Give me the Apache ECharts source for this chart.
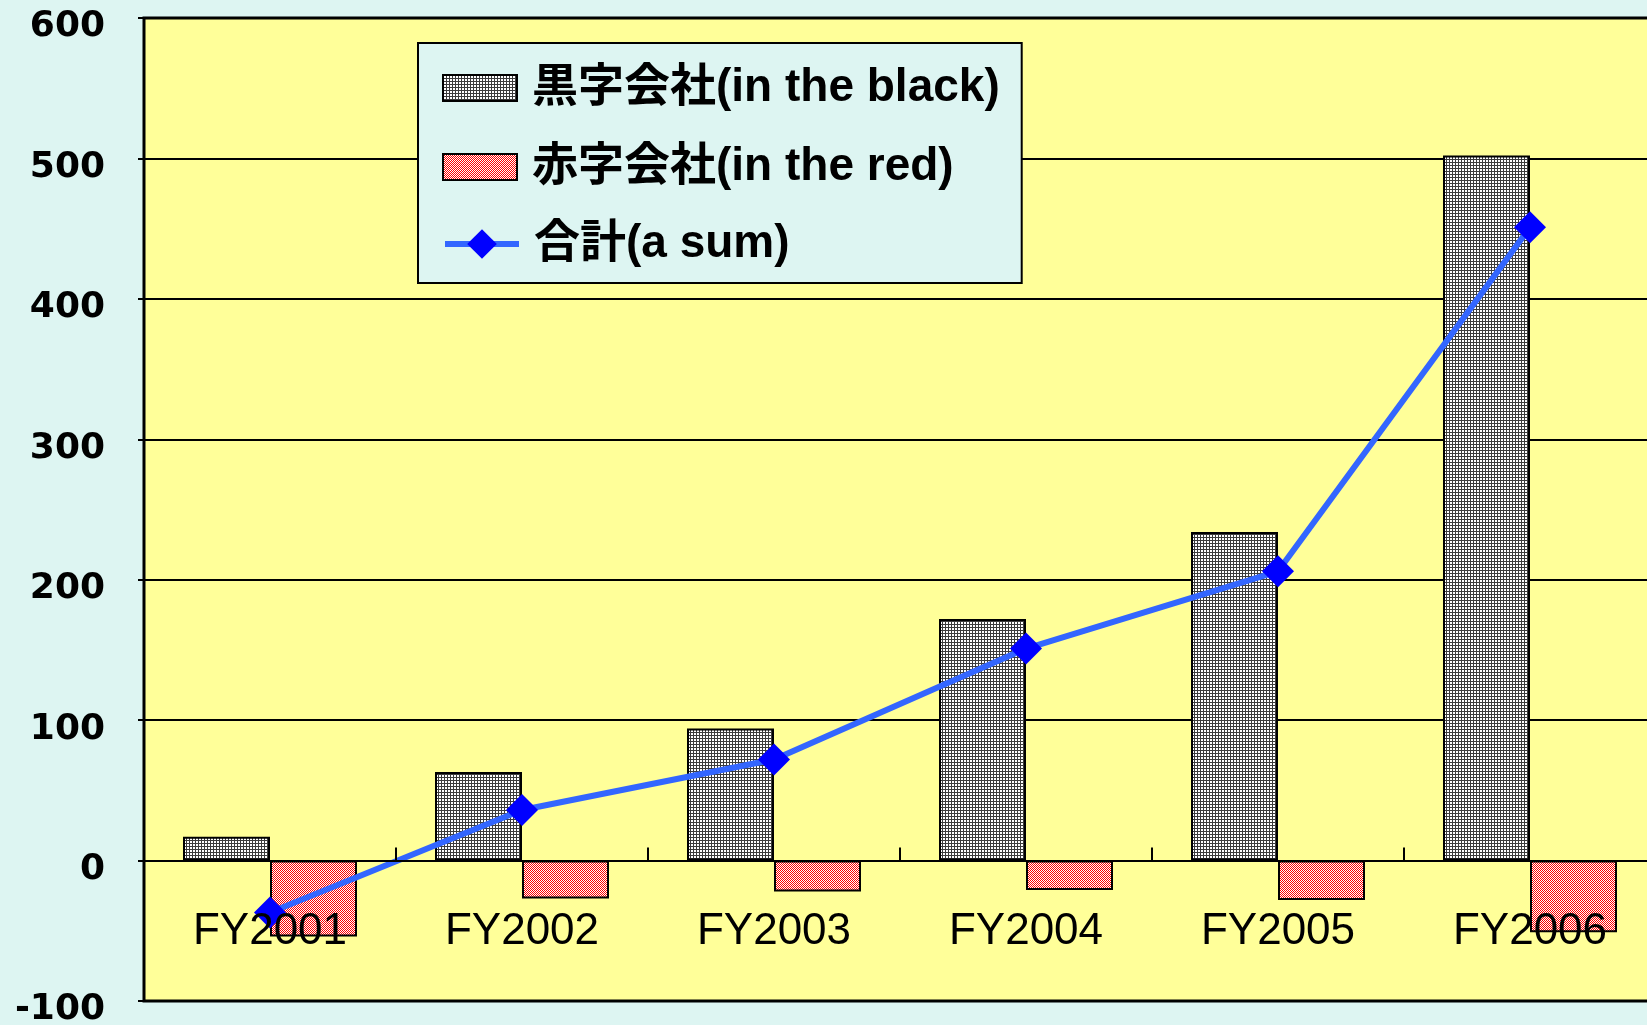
<!DOCTYPE html>
<html><head><meta charset="utf-8">
<script src="https://cdn.jsdelivr.net/npm/echarts@6/dist/echarts.min.js"></script>
<style>html,body{margin:0;padding:0;background:#DDF5F2;}#c{width:1647px;height:1025px;}</style>
</head><body><div id="c"></div>
<script>
const categories = ['FY2001', 'FY2002', 'FY2003', 'FY2004', 'FY2005', 'FY2006'];
const blackValues = [17, 63, 94, 172, 234, 502];
const redValues = [-54, -27, -22, -21, -28, -51];
const sumValues = [-37, 36, 72, 151, 206, 451];
const seriesNames = ['黒字会社(in the black)', '赤字会社(in the red)', '合計(a sum)'];
const yMin = -100, yMax = 600, yStep = 100;

function gridPattern() {
  const c = document.createElement('canvas'); c.width = 3; c.height = 3;
  const g = c.getContext('2d');
  g.fillStyle = '#ffffff'; g.fillRect(0, 0, 3, 3);
  g.fillStyle = '#3c3c3c'; g.fillRect(0, 0, 3, 1); g.fillRect(0, 0, 1, 3);
  return c;
}
function checkPattern() {
  const c = document.createElement('canvas'); c.width = 2; c.height = 2;
  const g = c.getContext('2d');
  g.fillStyle = '#ffffff'; g.fillRect(0, 0, 2, 2);
  g.fillStyle = '#ff0000'; g.fillRect(0, 0, 1, 1); g.fillRect(1, 1, 1, 1);
  return c;
}
const blackFill = { image: gridPattern(), repeat: 'repeat' };
const redFill = { image: checkPattern(), repeat: 'repeat' };

const legendText = { fontSize: 46, fontWeight: 'bold', color: '#000',
  fontFamily: '"Liberation Sans", "Noto Sans CJK JP", sans-serif', padding: [0, 0, 0, 10] };

const chart = echarts.init(document.getElementById('c'), null, { renderer: 'canvas' });
chart.setOption({
  backgroundColor: '#DDF5F2',
  animation: false,
  grid: {
    left: 144, top: 18, right: -9, bottom: 24,
    containLabel: false, outerBoundsMode: 'none',
    show: true, backgroundColor: '#FFFF99', borderColor: '#000', borderWidth: 3
  },
  legend: [{
    orient: 'vertical', left: 418, top: 43,
    backgroundColor: '#DDF5F2', borderColor: '#000', borderWidth: 2,
    padding: [22, 22, 93, 24],
    icon: 'rect',
    itemWidth: 74, itemHeight: 26, itemGap: 33,
    textStyle: legendText,
    data: [seriesNames[0], seriesNames[1]]
  }, {
    orient: 'vertical', left: 442, top: 221,
    padding: 0,
    itemWidth: 74, itemHeight: 37,
    lineStyle: { width: 6 },
    textStyle: legendText,
    data: [seriesNames[2]]
  }],
  xAxis: {
    type: 'category', data: categories, z: 10,
    axisLine: { onZero: true, lineStyle: { color: '#000', width: 2 } },
    axisTick: { show: true, inside: true, length: 13, lineStyle: { color: '#000', width: 2 } },
    axisLabel: { margin: -91, fontSize: 44, color: '#000', fontFamily: '"Liberation Sans", sans-serif' },
    splitLine: { show: false }
  },
  yAxis: {
    type: 'value', min: yMin, max: yMax, interval: yStep,
    axisLine: { show: false },
    axisTick: { show: true, length: 6, lineStyle: { color: '#000', width: 2 } },
    axisLabel: { margin: 39, fontSize: 36, fontWeight: 'bold', color: '#000',
      fontFamily: '"DejaVu Sans", sans-serif', verticalAlign: 'top', lineHeight: 18 },
    splitLine: { show: true, lineStyle: { color: '#000', width: 2 } }
  },
  series: [
    { name: seriesNames[0], type: 'bar', data: blackValues, barWidth: 87, barGap: '0%',
      itemStyle: { color: blackFill, borderColor: '#000', borderWidth: 2 } },
    { name: seriesNames[1], type: 'bar', data: redValues, barWidth: 87, barGap: '0%',
      itemStyle: { color: redFill, borderColor: '#000', borderWidth: 2 } },
    { name: seriesNames[2], type: 'line', data: sumValues, z: 5,
      symbol: 'diamond', symbolSize: 32,
      lineStyle: { color: '#3366FF', width: 6 },
      itemStyle: { color: '#0000FF' } }
  ]
});
</script></body></html>
